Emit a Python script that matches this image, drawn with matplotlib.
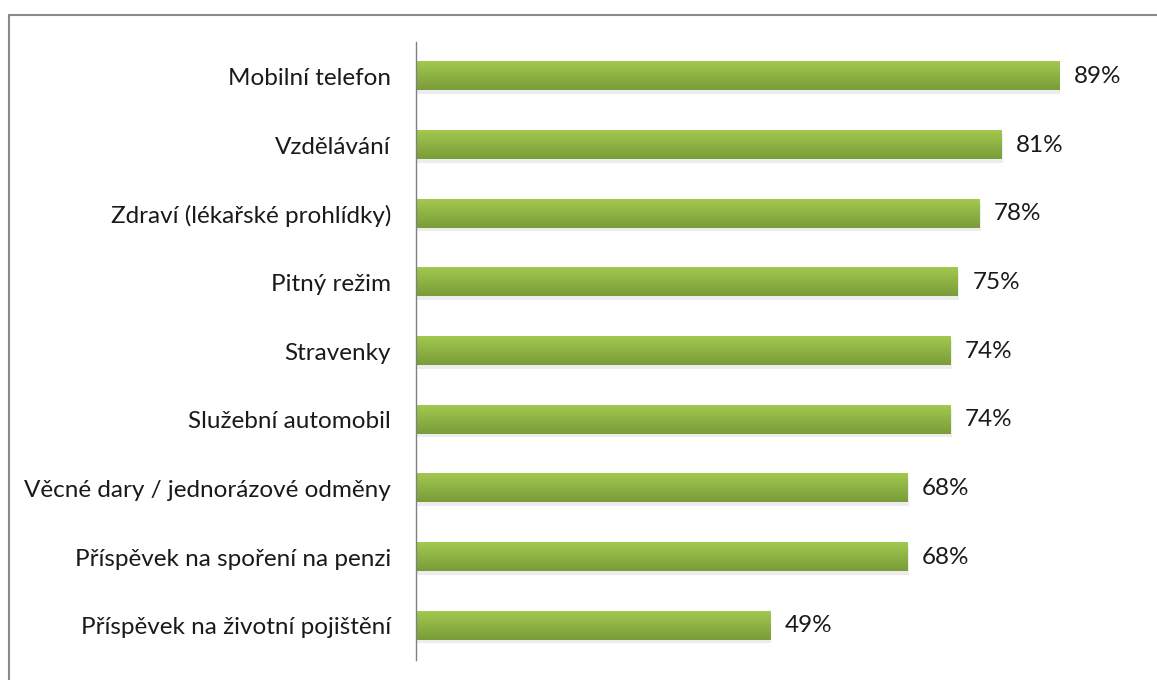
import numpy as np
import matplotlib
matplotlib.use("Agg")
import matplotlib.pyplot as plt
from matplotlib.patches import Rectangle

plt.rcParams.update({
    "font.family": ["Lato", "DejaVu Sans"],
    "font.size": 17.5,
})

categories = [
    "Mobilní telefon",
    "Vzdělávání",
    "Zdraví (lékařské prohlídky)",
    "Pitný režim",
    "Stravenky",
    "Služební automobil",
    "Věcné dary / jednorázové odměny",
    "Příspěvek na spoření na penzi",
    "Příspěvek na životní pojištění",
]
values = [89, 81, 78, 75, 74, 74, 68, 68, 49]

fig = plt.figure(figsize=(11.57, 6.8), dpi=100)
ax = fig.add_axes([416 / 1157, 20 / 680, 722.5 / 1157, 618 / 680])

y = np.arange(len(categories))
h = 0.41
# vertical gradient: light on top, darker at the bottom
grad = np.linspace(0, 1, 64).reshape(-1, 1)
cmap = matplotlib.colors.LinearSegmentedColormap.from_list("g", ["#a2c84e", "#7a9c3a"])
for yi, v in zip(y, values):
    # soft shadow
    ax.barh(yi + 0.05, v + 0.2, height=h, color="#000000", alpha=0.07, zorder=1)
    ax.imshow(grad, extent=(0, v, yi + h / 2, yi - h / 2), cmap=cmap,
              aspect="auto", zorder=2)
    ax.text(v + 2.0, yi, f"{v}%", va="center", ha="left", color="#1a1a1a")

ax.set_xlim(0, 100)
ax.set_ylim(len(categories) - 0.5, -0.5)
ax.set_yticks(y)
ax.set_yticklabels(categories, color="#1a1a1a")
ax.tick_params(axis="y", length=0, pad=18)
ax.set_xticks([])
for s in ["top", "right", "bottom"]:
    ax.spines[s].set_visible(False)
ax.spines["left"].set_color("#808080")
ax.spines["left"].set_linewidth(1.0)

# outer frame (right and bottom edges lie outside the image)
fig.patches.append(Rectangle((9 / 1157, -0.05), 1.2, 1 - 15 / 680 + 0.05,
                             transform=fig.transFigure, fill=False,
                             edgecolor="#8a8a8a", linewidth=1.5))

fig.savefig("out.png", dpi=100)
